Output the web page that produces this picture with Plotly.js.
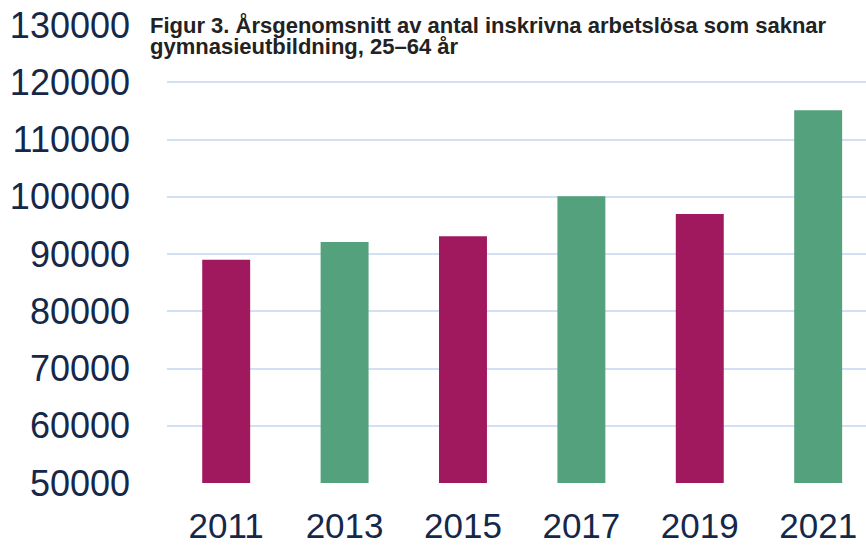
<!DOCTYPE html>
<html>
<head>
<meta charset="utf-8">
<script src="https://cdn.plot.ly/plotly-3.0.1.min.js"></script>
<style>html,body{margin:0;padding:0;background:#fff;overflow:hidden}#chart{width:866px;height:545px}</style>
</head>
<body>
<div id="chart"></div>
<script>
const years = ['2011', '2013', '2015', '2017', '2019', '2021'];
const values = [89000, 92100, 93100, 100100, 97000, 115100];
const barColors = ['#A0195F', '#54A27D', '#A0195F', '#54A27D', '#A0195F', '#54A27D'];
const yTicks = [50000, 60000, 70000, 80000, 90000, 100000, 110000, 120000, 130000];
const titleLines = ['Figur 3. Årsgenomsnitt av antal inskrivna arbetslösa som saknar', 'gymnasieutbildning, 25–64 år'];

const trace = {
  type: 'bar',
  x: years,
  y: values,
  marker: {color: barColors, line: {width: 0}},
  hoverinfo: 'x+y'
};

const titleFont = {family: 'Liberation Sans, Arial, sans-serif', size: 22, color: '#222222'};

const layout = {
  width: 866,
  height: 545,
  margin: {l: 167, r: 0, t: 25, b: 62, pad: 0},
  paper_bgcolor: '#ffffff',
  plot_bgcolor: '#ffffff',
  showlegend: false,
  bargap: 0.595,
  xaxis: {
    type: 'category',
    range: [-0.5, 5.404],
    showgrid: false,
    zeroline: false,
    showline: false,
    ticks: '',
    ticklabelstandoff: 19,
    tickfont: {family: 'Liberation Sans, Arial, sans-serif', size: 35, color: '#15284A'}
  },
  yaxis: {
    range: [50000, 130000],
    tickvals: yTicks,
    ticktext: yTicks.map(String),
    showgrid: true,
    gridcolor: '#D3E0F3',
    gridwidth: 2,
    zeroline: false,
    showline: false,
    ticks: '',
    ticklabelstandoff: 36,
    tickfont: {family: 'Liberation Sans, Arial, sans-serif', size: 36, color: '#15284A'}
  },
  shapes: [{
    type: 'rect', layer: 'above',
    xref: 'paper', yref: 'paper',
    x0: -0.03, x1: 0.9928, y0: 0.985, y1: 1.01,
    fillcolor: '#ffffff', line: {width: 0}
  }],
  annotations: [{
    xref: 'paper', yref: 'paper',
    x: -0.0275, y: 1.032,
    xanchor: 'left', yanchor: 'top',
    align: 'left',
    text: '<b>' + titleLines[0] + '</b>',
    showarrow: false,
    font: titleFont
  }, {
    xref: 'paper', yref: 'paper',
    x: -0.0275, y: 0.984,
    xanchor: 'left', yanchor: 'top',
    align: 'left',
    text: '<b>' + titleLines[1] + '</b>',
    showarrow: false,
    font: titleFont
  }]
};

Plotly.newPlot('chart', [trace], layout, {displayModeBar: false, staticPlot: true});
</script>
</body>
</html>
